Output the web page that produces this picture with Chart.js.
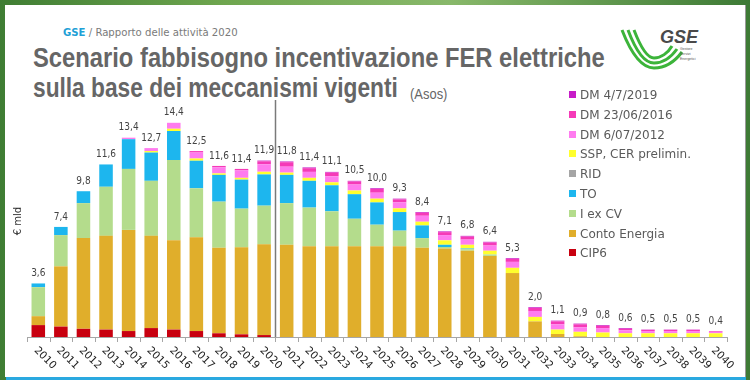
<!DOCTYPE html>
<html>
<head>
<meta charset="utf-8">
<script src="https://cdn.jsdelivr.net/npm/chart.js@4"></script>
<style>
  html, body { margin: 0; padding: 0; }
  body {
    width: 750px; height: 380px; position: relative; overflow: hidden;
    background: linear-gradient(90deg, #3f7d33 0%, #6fa64f 30%, #88b86a 60%, #3d7a35 100%);
    font-family: "DejaVu Sans", sans-serif;
  }
  #panel { position: absolute; left: 5px; top: 5px; width: 740px; height: 372px; background: #fff; border-right: 1px solid #9a9a9a; }
  #blue { position: absolute; left: 6px; top: 377px; width: 740px; height: 3px; background: #2aa9e0; }
  #chart { position: absolute; left: 0; top: 0; }
  #hdr { position: absolute; left: 63px; top: 26px; font: 11px "DejaVu Sans Condensed", sans-serif; color: #7a7a7a; white-space: nowrap; transform-origin: 0 0; }
  #hdr b { color: #1fa0d6; }
  .tt { position: absolute; left: 33px; font: bold 28px "Liberation Sans", sans-serif; line-height: 28px; color: #666; white-space: nowrap; transform-origin: 0 0; }
  #asos { position: absolute; left: 410px; top: 87px; font: 14px "Liberation Sans", sans-serif; line-height: 14px; color: #666; white-space: nowrap; transform-origin: 0 0; }
  #legend { position: absolute; left: 569px; top: 89px; font: 12px "DejaVu Sans", sans-serif; color: #5a5a5a; }
  #legend div { height: 19.8px; line-height: 13px; white-space: nowrap; }
  #legend span { display: inline-block; width: 7px; height: 7px; margin-right: 4px; vertical-align: 1px; }
  #logo { position: absolute; left: 620px; top: 24px; width: 82px; height: 48px; }
</style>
</head>
<body>
<div id="panel"></div>
<div id="blue"></div>
<div id="hdr"><b>GSE</b> / Rapporto delle attività 2020</div>
<div class="tt" id="t1" style="top:44px">Scenario fabbisogno incentivazione FER elettriche</div>
<div class="tt" id="t2" style="top:74px">sulla base dei meccanismi vigenti</div>
<div id="asos">(Asos)</div>
<svg id="logo" viewBox="0 0 82 48">
  <path d="M2 6 C9 24 19 44 34 44 C46 44 56 36 62 28" fill="none" stroke="#3cb43a" stroke-width="3"/>
  <path d="M8 6 C14 22 23 39 34 39 C44 39 52 32 57 25" fill="none" stroke="#3cb43a" stroke-width="3"/>
  <path d="M14 6 C19 19 26 34 34 34 C41 34 48 29 52 22" fill="none" stroke="#3cb43a" stroke-width="3"/>
  <text x="40" y="19" font-family="Liberation Sans" font-weight="bold" font-style="italic" font-size="18" fill="#4a4a4a">GSE</text>
  <text x="60" y="26" font-family="Liberation Sans" font-size="3.5" fill="#555">Gestore</text>
  <text x="60" y="31" font-family="Liberation Sans" font-size="3.5" fill="#555">Servizi</text>
  <text x="60" y="36" font-family="Liberation Sans" font-size="3.5" fill="#555">Energetici</text>
</svg>
<canvas id="chart" width="750" height="380"></canvas>
<div id="legend"></div>
<script>
const years = ["2010","2011","2012","2013","2014","2015","2016","2017","2018","2019","2020",
  "2021","2022","2023","2024","2025","2026","2027","2028","2029","2030",
  "2031","2032","2033","2034","2035","2036","2037","2038","2039","2040"];
const totals = ["3,6","7,4","9,8","11,6","13,4","12,7","14,4","12,5","11,6","11,4","11,9",
  "11,8","11,4","11,1","10,5","10,0","9,3","8,4","7,1","6,8","6,4",
  "5,3","2,0","1,1","0,9","0,8","0,6","0,5","0,5","0,5","0,4"];

const cip6 = [0.8,0.7,0.55,0.5,0.4,0.6,0.5,0.4,0.25,0.18,0.13,
  0,0,0,0,0,0,0,0,0,0, 0,0,0,0,0,0,0,0,0,0];
const contoEnergia = [0.6,4.05,6.1,6.3,6.8,6.2,6.0,6.3,5.75,5.85,6.1,
  6.2,6.1,6.1,6.1,6.1,6.1,6.0,5.95,5.8,5.45, 4.3,1.05,0.2,0.05,0,0,0,0,0,0];
const iExCV = [1.95,2.1,2.35,3.3,4.1,3.7,5.4,3.3,3.1,2.6,2.6,
  2.8,2.6,2.35,1.85,1.45,1.05,0.65,0.1,0.1,0.1, 0,0,0,0,0,0,0,0,0,0];
const to = [0.25,0.55,0.8,1.5,2.0,1.9,1.95,1.85,1.8,1.95,2.1,
  1.9,1.8,1.75,1.65,1.5,1.25,0.85,0.15,0.05,0, 0,0,0,0,0,0,0,0,0,0];
const rid = [0,0,0,0,0,0,0,0,0,0,0, 0,0,0,0,0,0,0,0,0,0, 0,0,0,0,0,0,0,0,0,0];
const ssp = [0,0,0,0,0,0.1,0.15,0.15,0.1,0.12,0.18,
  0.15,0.2,0.2,0.25,0.25,0.25,0.25,0.3,0.25,0.25, 0.35,0.3,0.3,0.3,0.3,0.25,0.25,0.25,0.25,0.25];
const dm2012 = [0,0,0,0,0.1,0.2,0.4,0.4,0.4,0.5,0.5,
  0.4,0.4,0.4,0.4,0.4,0.4,0.4,0.35,0.35,0.35, 0.4,0.4,0.35,0.3,0.3,0.2,0.15,0.15,0.15,0.1];
const dm2016 = [0,0,0,0,0,0,0,0.1,0.1,0.1,0.2,
  0.3,0.25,0.25,0.2,0.25,0.2,0.2,0.2,0.2,0.2, 0.2,0.2,0.2,0.2,0.15,0.1,0.08,0.08,0.08,0.05];
const dm2019 = [0,0,0,0,0,0,0,0,0,0,0.05,
  0.05,0.05,0.05,0.05,0.05,0.05,0.05,0.05,0.05,0.05, 0.05,0.05,0.05,0.05,0.05,0.05,0.02,0.02,0.02,0];

const series = [
  { label: "CIP6", data: cip6, color: "#c8000f" },
  { label: "Conto Energia", data: contoEnergia, color: "#e0ae2b" },
  { label: "I ex CV", data: iExCV, color: "#b4dc8c" },
  { label: "TO", data: to, color: "#1db6ee" },
  { label: "RID", data: rid, color: "#a5a5a5" },
  { label: "SSP, CER prelimin.", data: ssp, color: "#ffff2e" },
  { label: "DM 6/07/2012", data: dm2012, color: "#ff7bef" },
  { label: "DM 23/06/2016", data: dm2016, color: "#f53ab8" },
  { label: "DM 4/7/2019", data: dm2019, color: "#c71cc7" },
];

// squeeze the heading texts to the widths of the original (condensed face)
function fitWidth(id, w) {
  const el = document.getElementById(id);
  el.style.transform = "scaleX(" + (w / el.offsetWidth) + ")";
}
fitWidth("t1", 572);
fitWidth("t2", 365);
fitWidth("asos", 37);
fitWidth("hdr", 175);

// legend, top item is last stacked series
const legendEl = document.getElementById("legend");
series.slice().reverse().forEach(s => {
  const row = document.createElement("div");
  row.innerHTML = '<span style="background:' + s.color + '"></span>' + s.label;
  legendEl.appendChild(row);
});

const extras = {
  id: "extras",
  afterDatasetsDraw(chart) {
    const { ctx, chartArea, scales } = chart;
    const x = scales.x, y = scales.y;
    const base = chartArea.bottom;
    const step = (chartArea.right - chartArea.left) / years.length;
    ctx.save();
    // axis + ticks
    ctx.strokeStyle = "#a6a6a6";
    ctx.lineWidth = 1;
    ctx.beginPath();
    ctx.moveTo(chartArea.left, base + 0.5);
    ctx.lineTo(chartArea.right, base + 0.5);
    for (let i = 0; i <= years.length; i++) {
      const tx = Math.round(chartArea.left + i * step) + 0.5;
      ctx.moveTo(tx, base);
      ctx.lineTo(tx, base + 5);
    }
    ctx.stroke();
    // divider between 2020 and 2021
    const dx = Math.round(chartArea.left + 11 * step) + 0.5;
    ctx.strokeStyle = "#7a7a7a";
    ctx.lineWidth = 1.5;
    ctx.beginPath();
    ctx.moveTo(dx, 100);
    ctx.lineTo(dx, base);
    ctx.stroke();
    // x labels
    ctx.fillStyle = "#222";
    ctx.font = "10.5px 'DejaVu Sans'";
    ctx.textAlign = "left";
    ctx.textBaseline = "top";
    years.forEach((yr, i) => {
      const cx = x.getPixelForValue(i);
      ctx.save();
      ctx.translate(cx + 1, base + 8);
      ctx.rotate(Math.PI / 4);
      ctx.fillText(yr, 0, 0);
      ctx.restore();
    });
    // totals
    ctx.fillStyle = "#444";
    ctx.font = "10px 'DejaVu Sans Condensed'";
    ctx.textAlign = "center";
    ctx.textBaseline = "bottom";
    years.forEach((yr, i) => {
      const sum = series.reduce((a, s) => a + s.data[i], 0);
      ctx.fillText(totals[i], x.getPixelForValue(i), y.getPixelForValue(sum) - 5);
    });
    // y title
    ctx.save();
    ctx.translate(18, 221);
    ctx.rotate(-Math.PI / 2);
    ctx.fillStyle = "#333";
    ctx.font = "10px 'DejaVu Sans'";
    ctx.textBaseline = "middle";
    ctx.fillText("€ mld", 0, 0);
    ctx.restore();
    ctx.restore();
  }
};

new Chart(document.getElementById("chart").getContext("2d"), {
  type: "bar",
  data: {
    labels: years,
    datasets: series.map(s => ({
      label: s.label,
      data: s.data,
      backgroundColor: s.color,
      borderWidth: 0,
      barPercentage: 0.6,
      categoryPercentage: 1,
    })),
  },
  options: {
    responsive: false,
    animation: false,
    devicePixelRatio: 1,
    layout: { padding: { left: 27, right: 23, top: 99, bottom: 43 } },
    scales: {
      x: { stacked: true, display: false },
      y: { stacked: true, display: false, min: 0, max: 16 },
    },
    plugins: { legend: { display: false }, tooltip: { enabled: false } },
  },
  plugins: [extras],
});
</script>
</body>
</html>
